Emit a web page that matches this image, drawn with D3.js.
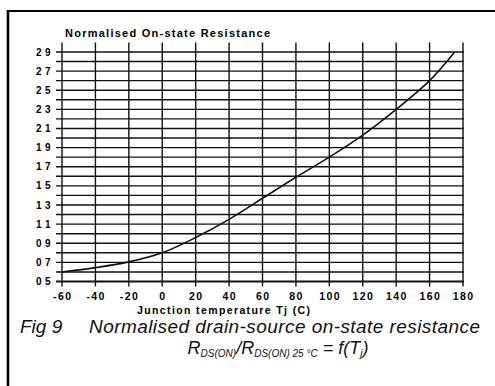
<!DOCTYPE html>
<html>
<head>
<meta charset="utf-8">
<script src="https://cdn.jsdelivr.net/npm/d3@7"></script>
<style>
  html, body { margin: 0; padding: 0; background: #fff; }
  svg { display: block; }
</style>
</head>
<body>
<div id="chart"></div>
<script>
// Normalised drain-source on-state resistance vs junction temperature
const temperatures = [-60, -40, -20, 0, 20, 40, 60, 80, 100, 120, 140, 160, 175];
const resistanceRatio = [0.60, 0.645, 0.705, 0.80, 0.96, 1.15, 1.37, 1.59, 1.80, 2.03, 2.30, 2.60, 2.90];

const xTickValues = [-60, -40, -20, 0, 20, 40, 60, 80, 100, 120, 140, 160, 180];
const yGridValues = d3.range(5, 30).map(d => d / 10);           // 0.5 … 2.9
const yTickValues = [0.5, 0.7, 0.9, 1.1, 1.3, 1.5, 1.7, 1.9, 2.1, 2.3, 2.5, 2.7, 2.9];
const yTickLabels = ["0 5", "0 7", "0 9", "1 1", "1 3", "1 5", "1 7", "1 9", "2 1", "2 3", "2 5", "2 7", "2 9"];

const W = 495, H = 386;
const FONT = "Liberation Sans, Arial, sans-serif";
const svg = d3.select("#chart").append("svg").attr("width", W).attr("height", H);

const x = d3.scaleLinear().domain([-60, 180]).range([62, 463]);
const y = d3.scaleLinear().domain([0.5, 3.0]).range([281.5, 42.4]);

// page frame (left and top rules)
svg.append("line").attr("x1", 8).attr("x2", 8).attr("y1", 10).attr("y2", H)
  .attr("stroke", "#000").attr("stroke-width", 2.6);
svg.append("line").attr("x1", 7).attr("x2", W).attr("y1", 11).attr("y2", 11)
  .attr("stroke", "#000").attr("stroke-width", 2);

const g = svg.append("g");

// horizontal grid lines every 0.1
g.selectAll("line.hgrid").data(yGridValues).join("line")
  .attr("class", "hgrid")
  .attr("x1", x(-60) - 6).attr("x2", x(180) + 1)
  .attr("y1", d => y(d)).attr("y2", d => y(d))
  .attr("stroke", "#111")
  .attr("stroke-width", d => d === 0.5 ? 1.8 : 1.4);

// vertical grid lines every 20 °C
g.selectAll("line.vgrid").data(xTickValues).join("line")
  .attr("class", "vgrid")
  .attr("x1", d => x(d)).attr("x2", d => x(d))
  .attr("y1", y(3.0)).attr("y2", y(0.5) + 5)
  .attr("stroke", "#111").attr("stroke-width", 1.4);

// y tick labels
g.selectAll("text.ylab").data(yTickValues).join("text")
  .attr("class", "ylab")
  .attr("x", 51).attr("y", d => y(d) + 3.6)
  .attr("text-anchor", "end")
  .attr("font-family", FONT)
  .attr("font-weight", "bold").attr("font-size", 10)
  .attr("letter-spacing", 0.4)
  .text((d, i) => yTickLabels[i]);

// x tick labels
g.selectAll("text.xlab").data(xTickValues).join("text")
  .attr("class", "xlab")
  .attr("x", d => x(d) + 0.7).attr("y", 300)
  .attr("text-anchor", "middle")
  .attr("font-family", FONT)
  .attr("font-weight", "bold").attr("font-size", 10.5)
  .attr("letter-spacing", 1.4)
  .text(d => d);

// curve
const line = d3.line()
  .x((d, i) => x(temperatures[i]))
  .y(d => y(d))
  .curve(d3.curveCatmullRom.alpha(0.5));
g.append("path").datum(resistanceRatio)
  .attr("d", line)
  .attr("fill", "none").attr("stroke", "#111").attr("stroke-width", 1.6);

// chart title
svg.append("text")
  .attr("x", 65).attr("y", 37)
  .attr("font-family", FONT)
  .attr("font-weight", "bold").attr("font-size", 11)
  .attr("textLength", 205).attr("lengthAdjust", "spacing")
  .text("Normalised On-state Resistance");

// axis title
svg.append("text")
  .attr("x", 137).attr("y", 314)
  .attr("font-family", FONT)
  .attr("font-weight", "bold").attr("font-size", 10.5)
  .attr("textLength", 173).attr("lengthAdjust", "spacing")
  .text("Junction temperature  Tj (C)");

// figure caption
const cap = svg.append("g")
  .attr("font-family", FONT)
  .attr("font-style", "italic").attr("fill", "#111");
cap.append("text").attr("x", 20).attr("y", 333).attr("font-size", 19).text("Fig 9");
cap.append("text").attr("x", 89).attr("y", 333).attr("font-size", 19)
  .attr("textLength", 391).attr("lengthAdjust", "spacing")
  .text("Normalised drain-source on-state resistance");

const eq = cap.append("text").attr("x", 278).attr("y", 354)
  .attr("text-anchor", "middle").attr("font-size", 18);
eq.append("tspan").text("R");
eq.append("tspan").attr("font-size", 10).attr("dy", 3).text("DS(ON)");
eq.append("tspan").attr("dy", -3).text("/R");
eq.append("tspan").attr("font-size", 10).attr("dy", 3).text("DS(ON) 25 °C");
eq.append("tspan").attr("dy", -3).text(" = f(T");
eq.append("tspan").attr("font-size", 10).attr("dy", 3).text("j");
eq.append("tspan").attr("dy", -3).text(")");
</script>
</body>
</html>
